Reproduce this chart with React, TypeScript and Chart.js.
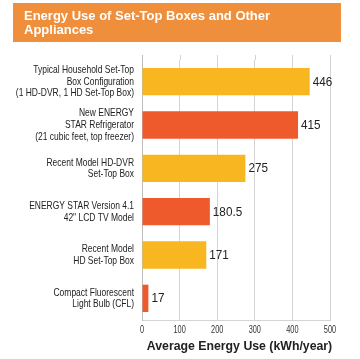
import React, { useEffect, useRef } from "react";
import { Chart, registerables } from "chart.js";

Chart.register(...registerables);

const titleLines = ["Energy Use of Set-Top Boxes and Other", "Appliances"];
const categories: string[][] = [
  ["Typical Household Set-Top", "Box Configuration", "(1 HD-DVR, 1 HD Set-Top Box)"],
  ["New ENERGY", "STAR Refrigerator", "(21 cubic feet, top freezer)"],
  ["Recent Model HD-DVR", "Set-Top Box"],
  ["ENERGY STAR Version 4.1", "42\" LCD TV Model"],
  ["Recent Model", "HD Set-Top Box"],
  ["Compact Fluorescent", "Light Bulb (CFL)"],
];
const values = [446, 415, 275, 180.5, 171, 17];
const valueLabels = ["446", "415", "275", "180.5", "171", "17"];
const barColors = ["#F8B620", "#EE5A2B", "#F8B620", "#EE5A2B", "#F8B620", "#EE5A2B"];
const xTicks = [0, 100, 200, 300, 400, 500];
const xTitle = "Average Energy Use (kWh/year)";

const SANS = "'Liberation Sans', Arial, sans-serif";

function drawNarrow(ctx: any, text: string, x: number, y: number, align: string, size: number, sx: number, color: string) {
  ctx.save();
  ctx.font = `${size}px ${SANS}`;
  ctx.fillStyle = color;
  ctx.textBaseline = "middle";
  ctx.textAlign = align;
  ctx.translate(x, y);
  ctx.scale(sx, 1);
  ctx.fillText(text, 0, 0);
  ctx.restore();
}

const customPlugin = {
  id: "custom",
  beforeDraw(chart: any) {
    const ctx = chart.ctx;
    ctx.save();
    ctx.fillStyle = "#ffffff";
    ctx.fillRect(0, 0, chart.width, chart.height);
    ctx.fillStyle = "#EF8F3B";
    ctx.fillRect(13, 3, 328, 39);
    ctx.fillStyle = "#ffffff";
    ctx.font = `bold 13px ${SANS}`;
    ctx.textBaseline = "middle";
    ctx.textAlign = "left";
    ctx.fillText(titleLines[0], 24, 16);
    ctx.fillText(titleLines[1], 24, 30);
    ctx.restore();
  },
  beforeDatasetsDraw(chart: any) {
    const ctx = chart.ctx;
    const xs = chart.scales.x;
    const top = chart.chartArea.top;
    ctx.save();
    ctx.lineWidth = 1;
    xTicks.forEach((v) => {
      const px = Math.round(xs.getPixelForValue(v)) + 0.5;
      ctx.strokeStyle = v === 0 ? "#bdbdbd" : "#d4d4d4";
      ctx.beginPath();
      ctx.moveTo(px, top - 5);
      ctx.lineTo(px, top);
      ctx.stroke();
    });
    ctx.restore();
  },
  afterDatasetsDraw(chart: any) {
    const ctx = chart.ctx;
    const meta = chart.getDatasetMeta(0);
    const xs = chart.scales.x;
    const area = chart.chartArea;
    meta.data.forEach((bar: any, i: number) => {
      drawNarrow(ctx, valueLabels[i], bar.x + 3, bar.y + 0.5, "left", 13, 0.9, "#222");
    });
    // category labels
    const lh = 11.7;
    meta.data.forEach((bar: any, i: number) => {
      const lines = categories[i];
      const y0 = bar.y - ((lines.length - 1) * lh) / 2;
      lines.forEach((ln, j) => {
        drawNarrow(ctx, ln, 134, y0 + j * lh, "right", 11, 0.77, "#222");
      });
    });
    // x tick labels
    xTicks.forEach((v) => {
      drawNarrow(ctx, String(v), xs.getPixelForValue(v), area.bottom + 10, "center", 10.5, 0.7, "#333");
    });
    // x title
    ctx.save();
    ctx.font = `bold 12.3px ${SANS}`;
    ctx.fillStyle = "#222";
    ctx.textAlign = "center";
    ctx.textBaseline = "middle";
    ctx.fillText(xTitle, 239.5, 347);
    ctx.restore();
  },
};

export default function App() {
  const ref = useRef<HTMLCanvasElement | null>(null);
  useEffect(() => {
    document.body.style.margin = "0";
    const canvas = ref.current!;
    const chart = new Chart(canvas, {
      type: "bar",
      data: {
        labels: categories,
        datasets: [
          {
            data: values,
            backgroundColor: barColors,
            borderWidth: 0,
            barPercentage: 0.63,
            categoryPercentage: 1,
          },
        ],
      },
      options: {
        indexAxis: "y",
        animation: false,
        responsive: false,
        devicePixelRatio: 1,
        layout: { padding: { top: 60, right: 30, bottom: 0, left: 0 } },
        plugins: {
          legend: { display: false },
          tooltip: { enabled: false },
          title: { display: false },
        },
        scales: {
          x: {
            min: 0,
            max: 500,
            ticks: {
              stepSize: 100,
              display: false,
            },
            grid: { color: "#d4d4d4", drawTicks: false },
            border: { display: true, color: "#d4d4d4" },
            afterFit(scale: any) {
              scale.height = 39;
            },
          },
          y: {
            grid: { display: false },
            border: { display: true, color: "#bdbdbd" },
            ticks: { display: false },
            afterFit(scale: any) {
              scale.width = 142;
            },
          },
        },
      },
      plugins: [customPlugin],
    } as any);
    return () => chart.destroy();
  }, []);
  return (
    <div style={{ width: 360, height: 359 }}>
      <canvas ref={ref} width={360} height={359} style={{ display: "block", width: 360, height: 359 }} />
    </div>
  );
}
